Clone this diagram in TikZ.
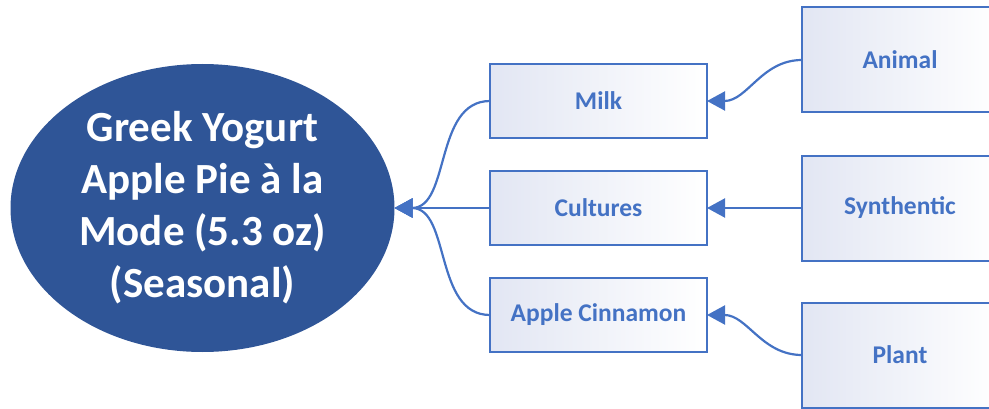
\documentclass[tikz,border=0pt]{standalone}
\usepackage{fontspec}
\setmainfont{Carlito}
\usepackage{tikz}
\usetikzlibrary{positioning, shapes.geometric, arrows.meta}
\definecolor{hubBlue}{RGB}{47,85,151}
\definecolor{linkBlue}{RGB}{68,114,196}
\definecolor{boxTint}{RGB}{226,230,243}
\tikzstyle{product} = [
    ellipse,
    fill = hubBlue,
    text = white,
    font = \fontsize{43}{52}\selectfont\bfseries,
    align = center,
    minimum width = 384pt,
    minimum height = 288pt,
    inner sep = 0pt,
    outer sep = 0pt
]
\tikzstyle{ingredient} = [
    rectangle,
    draw = linkBlue,
    line width = 2pt,
    left color = boxTint,
    right color = white,
    text = linkBlue,
    font = \fontsize{25.5}{30}\selectfont\bfseries,
    text centered,
    minimum width = 217pt,
    minimum height = 74pt,
    outer sep = 0pt
]
\tikzstyle{sourcebox} = [
    ingredient,
    minimum width = 196pt,
    minimum height = 105pt
]
\tikzstyle{link} = [
    draw = linkBlue,
    line width = 2.2pt,
    -{Triangle[length = 18pt, width = 19pt]}
]
\begin{document}
\begin{tikzpicture}

                \useasboundingbox (0,0) rectangle (989pt,408pt);

                % Yogurt
                \node [product] (yogurt) at (202.5pt,200pt) {Greek Yogurt\\Apple Pie à la\\Mode (5.3 oz)\\(Seasonal)};

                % Ingredients
                \node [ingredient, right = 95.5pt of yogurt] (cultures) {Cultures};
                \node [ingredient, above = 33pt of cultures] (milk) {Milk};
                \node [ingredient, below = 33pt of cultures] (cinnamon) {Apple Cinnamon};

                % Sources
                \node [sourcebox, right = 95pt of cultures] (synthentic) {Synthentic};
                \node [sourcebox, above = 43pt of synthentic] (animal) {Animal};
                \node [sourcebox, below = 42pt of synthentic] (plant) {Plant};

                % Ingredients -> yogurt
                \draw [link] (milk.west) to [out = 180, in = 0] (yogurt.east);
                \draw [link] (cultures.west) -- (yogurt.east);
                \draw [link] (cinnamon.west) to [out = 180, in = 0] (yogurt.east);

                % Sources -> ingredients
                \draw [link] (animal.west) to [out = 180, in = 0] (milk.east);
                \draw [link] (synthentic.west) -- (cultures.east);
                \draw [link] (plant.west) to [out = 180, in = 0] (cinnamon.east);

            \end{tikzpicture}
\end{document}
